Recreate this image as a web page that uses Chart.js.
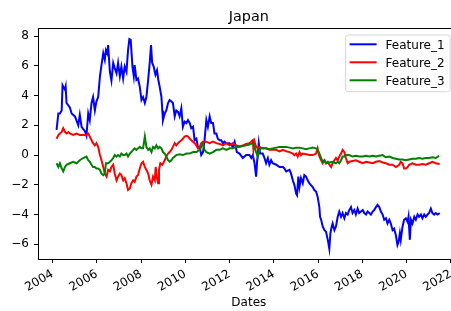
<!DOCTYPE html>
<html><head><meta charset="utf-8">
<script src="https://cdn.jsdelivr.net/npm/chart.js@4.4.1/dist/chart.umd.min.js"></script>
<style>html,body{margin:0;padding:0;overflow:hidden;background:#fff;width:451px;height:311px}</style>
</head><body>
<canvas id="c" width="462" height="311" style="display:block;width:462px;height:311px"></canvas>
<script>
const chartTitle = 'Japan';
const xLabel = 'Dates';
const seriesNames = ['Feature_1', 'Feature_2', 'Feature_3'];
const seriesColors = ['#0000ff', '#ff0000', '#008000'];
const xTicks = [2004, 2006, 2008, 2010, 2012, 2014, 2016, 2018, 2020, 2022];
const yTicks = [-6, -4, -2, 0, 2, 4, 6, 8];

const f1Dates = [2004.18,2004.26,2004.33,2004.41,2004.45,2004.56,2004.59,2004.63,2004.78,2004.86,2005.01,2005.16,2005.23,2005.31,2005.46,2005.53,2005.61,2005.68,2005.76,2005.83,2005.91,2005.98,2006.06,2006.14,2006.21,2006.29,2006.36,2006.41,2006.47,2006.51,2006.59,2006.66,2006.74,2006.81,2006.89,2006.96,2007.04,2007.11,2007.19,2007.26,2007.34,2007.41,2007.47,2007.53,2007.61,2007.67,2007.71,2007.79,2007.86,2007.94,2008.02,2008.09,2008.17,2008.24,2008.32,2008.39,2008.45,2008.50,2008.57,2008.65,2008.72,2008.78,2008.84,2008.92,2008.96,2008.99,2009.07,2009.14,2009.22,2009.29,2009.37,2009.44,2009.52,2009.59,2009.67,2009.74,2009.82,2009.89,2009.97,2010.05,2010.12,2010.20,2010.27,2010.35,2010.42,2010.50,2010.57,2010.65,2010.72,2010.80,2010.87,2010.95,2011.02,2011.10,2011.17,2011.25,2011.32,2011.40,2011.47,2011.55,2011.62,2011.70,2011.77,2011.85,2012.00,2012.15,2012.23,2012.33,2012.45,2012.60,2012.75,2012.90,2012.98,2013.05,2013.13,2013.20,2013.25,2013.32,2013.38,2013.50,2013.58,2013.65,2013.73,2013.80,2013.88,2013.95,2014.11,2014.26,2014.41,2014.48,2014.56,2014.71,2014.78,2014.86,2014.93,2015.01,2015.05,2015.11,2015.16,2015.23,2015.31,2015.38,2015.46,2015.53,2015.61,2015.76,2015.83,2015.91,2015.98,2016.06,2016.09,2016.14,2016.21,2016.29,2016.36,2016.44,2016.51,2016.56,2016.62,2016.66,2016.74,2016.81,2016.89,2016.96,2017.04,2017.11,2017.19,2017.26,2017.34,2017.41,2017.49,2017.56,2017.64,2017.71,2017.79,2017.86,2017.94,2018.02,2018.09,2018.17,2018.24,2018.32,2018.39,2018.47,2018.54,2018.62,2018.69,2018.77,2018.84,2018.92,2018.99,2019.07,2019.14,2019.22,2019.29,2019.37,2019.44,2019.52,2019.59,2019.64,2019.70,2019.74,2019.82,2019.89,2019.97,2020.05,2020.09,2020.15,2020.20,2020.27,2020.35,2020.42,2020.50,2020.57,2020.65,2020.72,2020.80,2020.87,2020.95,2021.02,2021.10,2021.17,2021.25,2021.32,2021.40,2021.50];
const f1Values = [1.7,2.8,2.8,3.0,4.7,4.4,4.6,3.5,3.2,2.8,2.6,2.0,2.7,1.9,1.6,1.3,2.8,2.35,3.5,3.9,3.0,3.6,3.9,5.3,6.05,6.85,6.4,7.05,6.85,7.4,5.6,5.0,6.2,5.85,5.5,6.2,5.3,5.95,5.15,5.95,5.6,7.05,7.8,7.75,5.95,5.3,6.05,5.05,5.15,4.6,3.7,3.9,3.5,3.9,5.05,6.2,7.4,6.2,5.95,5.4,5.7,5.05,4.6,3.9,3.0,2.35,2.8,3.0,3.5,3.7,3.6,3.5,2.6,3.0,2.9,2.6,3.15,1.9,2.25,2.15,2.35,2.15,1.8,1.9,1.0,1.1,0.55,0.55,0.0,0.2,1.0,2.35,1.9,2.6,2.15,2.15,1.45,1.45,1.1,1.0,1.0,0.8,0.9,0.8,0.8,0.55,0.9,0.2,0.1,-0.2,0.0,0.0,-0.2,0.0,-0.55,-1.45,-0.35,0.8,0.1,0.1,-0.2,-0.55,-0.2,-0.65,-0.35,-0.55,-0.65,-0.8,-0.8,-0.9,-1.1,-1.0,-1.25,-1.7,-2.0,-2.6,-2.7,-1.45,-2.15,-1.55,-1.9,-1.35,-1.45,-1.7,-1.9,-2.15,-2.35,-2.45,-2.8,-3.5,-4.15,-4.35,-4.8,-5.05,-5.15,-5.7,-6.3,-5.25,-4.8,-4.6,-5.05,-4.8,-4.15,-3.8,-4.15,-3.9,-4.25,-3.9,-4.0,-3.7,-3.5,-3.9,-3.7,-4.0,-3.6,-3.9,-3.8,-3.7,-3.9,-4.0,-3.8,-3.9,-4.0,-3.8,-3.7,-3.5,-3.35,-3.5,-3.8,-4.0,-4.35,-4.25,-4.6,-4.35,-4.6,-5.05,-4.95,-5.4,-6.05,-5.85,-5.25,-5.7,-4.8,-4.35,-4.25,-4.5,-4.15,-5.7,-4.35,-4.6,-4.15,-4.35,-4.0,-4.15,-4.0,-4.25,-4.0,-4.15,-4.0,-3.9,-3.6,-3.9,-4.0,-3.9,-4.0,-3.9];

const f2Dates = [2004.18,2004.26,2004.33,2004.41,2004.48,2004.56,2004.63,2004.71,2004.78,2004.93,2005.08,2005.23,2005.38,2005.53,2005.61,2005.68,2005.76,2005.83,2005.91,2005.98,2006.06,2006.14,2006.21,2006.29,2006.36,2006.44,2006.51,2006.59,2006.66,2006.74,2006.81,2006.89,2006.96,2007.04,2007.11,2007.19,2007.26,2007.34,2007.41,2007.49,2007.56,2007.64,2007.71,2007.79,2007.86,2007.94,2008.02,2008.09,2008.17,2008.24,2008.32,2008.39,2008.47,2008.54,2008.62,2008.66,2008.72,2008.77,2008.81,2008.87,2008.96,2009.07,2009.14,2009.22,2009.29,2009.37,2009.44,2009.52,2009.59,2009.67,2009.74,2009.82,2009.89,2009.97,2010.05,2010.12,2010.20,2010.27,2010.35,2010.42,2010.50,2010.57,2010.65,2010.72,2010.80,2010.95,2011.10,2011.25,2011.40,2011.55,2011.70,2011.85,2012.00,2012.15,2012.30,2012.45,2012.60,2012.75,2012.90,2013.05,2013.08,2013.13,2013.20,2013.28,2013.35,2013.50,2013.65,2013.80,2013.95,2014.11,2014.26,2014.41,2014.56,2014.71,2014.86,2014.93,2015.01,2015.08,2015.16,2015.23,2015.31,2015.46,2015.61,2015.76,2015.91,2015.98,2016.06,2016.14,2016.21,2016.29,2016.36,2016.44,2016.51,2016.59,2016.66,2016.74,2016.81,2016.89,2016.96,2017.04,2017.11,2017.19,2017.26,2017.34,2017.41,2017.56,2017.71,2017.86,2018.02,2018.17,2018.32,2018.47,2018.62,2018.77,2018.92,2019.07,2019.22,2019.37,2019.52,2019.67,2019.74,2019.82,2019.89,2019.97,2020.05,2020.12,2020.27,2020.42,2020.57,2020.72,2020.87,2021.02,2021.17,2021.32,2021.50];
const f2Values = [1.1,1.35,1.45,1.55,1.8,1.55,1.45,1.55,1.45,1.35,1.45,1.35,1.35,1.35,1.45,1.25,1.0,0.8,0.65,0.8,0.55,0.0,-0.35,-0.8,-1.25,-1.45,-1.0,-1.1,-0.8,-0.65,-1.25,-1.7,-1.45,-1.25,-1.35,-1.7,-1.55,-1.9,-2.35,-2.25,-1.9,-1.7,-1.8,-1.45,-1.35,-0.9,-0.55,-0.45,-0.8,-1.0,-1.25,-1.7,-2.0,-1.45,-1.7,-0.8,-1.55,-1.9,-1.0,-0.55,-0.65,-0.35,-0.1,0.1,0.2,0.35,0.55,0.8,0.65,0.8,0.9,1.0,1.1,1.25,1.3,1.25,1.1,1.0,0.9,0.8,0.65,0.45,0.55,0.8,0.9,0.9,0.8,0.9,0.8,0.75,0.65,0.8,0.65,0.8,0.65,0.6,0.65,0.75,0.8,1.0,0.35,0.9,0.55,0.45,0.55,0.45,0.45,0.35,0.35,0.35,0.25,0.35,0.25,0.2,0.1,0.0,0.1,-0.1,0.2,0.0,0.1,0.05,0.0,0.0,0.1,0.45,-0.1,-0.35,-0.55,-0.35,-0.55,-0.45,-0.65,-0.8,-0.55,-0.35,-0.2,-0.35,-0.1,0.1,0.35,0.2,-0.2,-0.55,-0.45,-0.4,-0.35,-0.45,-0.55,-0.45,-0.5,-0.55,-0.45,-0.4,-0.5,-0.55,-0.65,-0.65,-0.8,-0.65,-0.45,-0.55,-0.9,-0.9,-0.8,-0.65,-0.55,-0.65,-0.65,-0.6,-0.65,-0.55,-0.45,-0.55,-0.6];

const f3Dates = [2004.18,2004.26,2004.33,2004.41,2004.48,2004.56,2004.63,2004.78,2004.93,2005.08,2005.23,2005.38,2005.53,2005.61,2005.68,2005.76,2005.83,2005.91,2005.98,2006.06,2006.14,2006.21,2006.29,2006.36,2006.41,2006.51,2006.59,2006.66,2006.74,2006.81,2006.89,2006.96,2007.04,2007.11,2007.19,2007.26,2007.34,2007.41,2007.49,2007.56,2007.64,2007.71,2007.79,2007.86,2007.94,2008.02,2008.09,2008.17,2008.24,2008.32,2008.39,2008.47,2008.54,2008.62,2008.69,2008.77,2008.84,2008.92,2008.99,2009.07,2009.14,2009.22,2009.29,2009.37,2009.44,2009.52,2009.59,2009.74,2009.89,2010.05,2010.20,2010.35,2010.50,2010.65,2010.72,2010.80,2010.87,2010.95,2011.10,2011.25,2011.40,2011.55,2011.70,2011.85,2012.00,2012.15,2012.30,2012.45,2012.60,2012.75,2012.90,2013.05,2013.13,2013.20,2013.28,2013.35,2013.43,2013.50,2013.65,2013.80,2013.95,2014.11,2014.26,2014.41,2014.56,2014.71,2014.86,2015.01,2015.16,2015.31,2015.46,2015.61,2015.76,2015.91,2015.98,2016.06,2016.14,2016.21,2016.29,2016.36,2016.51,2016.66,2016.81,2016.89,2016.96,2017.04,2017.11,2017.19,2017.26,2017.41,2017.56,2017.71,2017.86,2018.02,2018.17,2018.32,2018.47,2018.62,2018.77,2018.92,2019.07,2019.22,2019.37,2019.52,2019.67,2019.82,2019.97,2020.12,2020.27,2020.42,2020.57,2020.72,2020.87,2021.02,2021.17,2021.32,2021.47];
const f3Values = [-0.55,-0.8,-0.55,-0.9,-1.1,-0.8,-0.65,-0.55,-0.45,-0.55,-0.35,-0.2,-0.1,-0.35,-0.45,-0.65,-0.8,-0.8,-0.9,-0.9,-1.0,-1.25,-1.35,-1.25,-0.55,-0.55,-0.45,-0.35,-0.2,0.0,-0.1,0.0,-0.1,0.1,0.0,0.0,0.1,-0.1,0.1,0.2,0.35,0.45,0.35,0.45,0.55,0.45,0.45,1.25,0.55,0.35,0.45,0.2,0.55,0.45,0.65,0.45,0.55,0.45,0.2,0.1,-0.1,-0.35,-0.45,-0.35,-0.2,-0.1,0.0,0.05,0.0,0.1,0.1,0.2,0.2,0.35,0.55,0.8,0.35,0.2,0.1,0.2,0.35,0.35,0.45,0.35,0.45,0.45,0.55,0.55,0.6,0.65,0.7,0.8,0.55,0.2,-0.1,0.35,0.45,0.45,0.45,0.4,0.45,0.5,0.55,0.55,0.55,0.5,0.45,0.5,0.5,0.45,0.4,0.45,0.5,0.45,0.35,0.1,-0.2,-0.45,-0.35,-0.55,-0.5,-0.45,-0.55,-0.45,-0.55,-0.35,-0.1,-0.1,0.0,0.0,-0.1,-0.05,-0.1,-0.1,-0.05,-0.1,-0.05,-0.1,-0.05,0.0,-0.15,-0.1,-0.2,-0.25,-0.3,-0.3,-0.35,-0.3,-0.25,-0.25,-0.2,-0.25,-0.2,-0.2,-0.15,-0.2,-0.05];

const FONT = "'DejaVu Sans', sans-serif";
const seriesDates = [f1Dates, f2Dates, f3Dates];
const seriesValues = [f1Values, f2Values, f3Values];

const datasets = seriesNames.map((name, i) => ({
  label: name,
  data: seriesDates[i].map((d, j) => ({ x: d, y: seriesValues[i][j] })),
  borderColor: seriesColors[i],
  backgroundColor: seriesColors[i],
  borderWidth: 2,
  pointRadius: 0,
  tension: 0,
  fill: false,
  order: seriesNames.length - i
}));

const decor = {
  id: 'decor',
  afterDraw(chart) {
    const ctx = chart.ctx;
    const ca = chart.chartArea;
    ctx.save();
    // frame
    ctx.strokeStyle = '#000';
    ctx.lineWidth = 1;
    ctx.strokeRect(ca.left + 0.5, ca.top + 0.5, ca.right - ca.left, ca.bottom - ca.top);
    // title
    ctx.fillStyle = '#000';
    ctx.font = '14.4px ' + FONT;
    ctx.textAlign = 'center';
    ctx.textBaseline = 'alphabetic';
    ctx.fillText(chartTitle, (ca.left + ca.right) / 2, 21);
    // legend
    const bx = ca.right - 114, by = ca.top + 7, bw = 104.5, bh = 56.7, r = 2.5;
    ctx.beginPath();
    ctx.moveTo(bx + r, by);
    ctx.lineTo(bx + bw - r, by);
    ctx.quadraticCurveTo(bx + bw, by, bx + bw, by + r);
    ctx.lineTo(bx + bw, by + bh - r);
    ctx.quadraticCurveTo(bx + bw, by + bh, bx + bw - r, by + bh);
    ctx.lineTo(bx + r, by + bh);
    ctx.quadraticCurveTo(bx, by + bh, bx, by + bh - r);
    ctx.lineTo(bx, by + r);
    ctx.quadraticCurveTo(bx, by, bx + r, by);
    ctx.closePath();
    ctx.fillStyle = 'rgba(255,255,255,0.8)';
    ctx.fill();
    ctx.strokeStyle = '#d6d6d6';
    ctx.lineWidth = 1;
    ctx.stroke();
    ctx.font = '12px ' + FONT;
    ctx.textAlign = 'left';
    chart.data.datasets.forEach((ds, i) => {
      const y = by + 9.3 + i * 18;
      ctx.strokeStyle = ds.borderColor;
      ctx.lineWidth = 2;
      ctx.beginPath();
      ctx.moveTo(bx + 4, y);
      ctx.lineTo(bx + 31, y);
      ctx.stroke();
      ctx.fillStyle = '#000';
      ctx.fillText(ds.label, bx + 40, y + 4.4);
    });
    ctx.restore();
  }
};

new Chart(document.getElementById('c'), {
  type: 'line',
  data: { datasets },
  options: {
    responsive: false,
    devicePixelRatio: 1,
    animation: false,
    layout: { padding: { top: 28, right: 2, left: 0, bottom: 0 } },
    plugins: { legend: { display: false }, tooltip: { enabled: false }, title: { display: false } },
    scales: {
      x: {
        type: 'linear',
        min: 2003.34,
        max: 2022.4,
        afterBuildTicks: s => { s.ticks = xTicks.map(v => ({ value: v })); },
        afterFit: s => { s.height = 52; },
        ticks: {
          autoSkip: false, minRotation: 30, maxRotation: 30, padding: 4,
          color: '#000', font: { family: FONT, size: 12 },
          callback: v => String(v)
        },
        grid: { drawOnChartArea: false, drawTicks: true, tickLength: 4, tickColor: '#000' },
        border: { display: false },
        title: { display: true, text: xLabel, color: '#000', font: { family: FONT, size: 12 }, padding: { top: 0, bottom: 1 } }
      },
      y: {
        type: 'linear',
        min: -6.99,
        max: 8.545,
        afterBuildTicks: s => { s.ticks = yTicks.map(v => ({ value: v })); },
        afterFit: s => { s.width = 38; },
        ticks: {
          padding: 5, color: '#000', font: { family: FONT, size: 12 },
          callback: v => (v < 0 ? '\u2212' + Math.abs(v) : String(v))
        },
        grid: { drawOnChartArea: false, drawTicks: true, tickLength: 4, tickColor: '#000' },
        border: { display: false }
      }
    }
  },
  plugins: [decor]
});
</script>
</body></html>
